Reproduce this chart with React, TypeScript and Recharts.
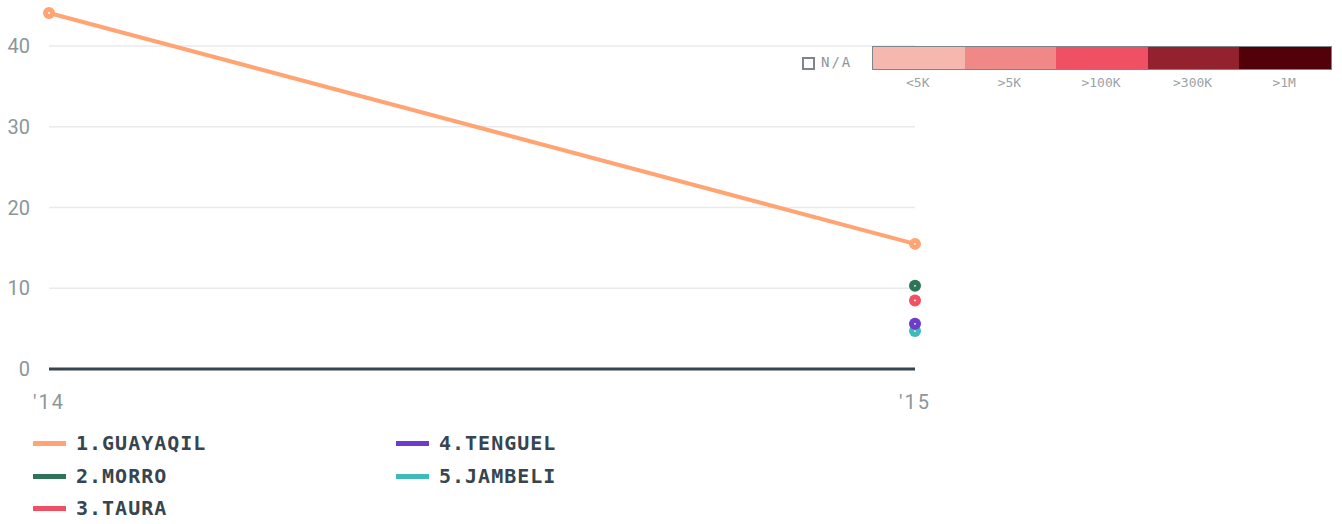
import React from 'react';
import { LineChart, Line, XAxis, YAxis, CartesianGrid } from 'recharts';

// years on the x axis
const years = ["'14", "'15"];

// values per town (null = no data)
const guayaquil = [44.1, 15.5];
const morro = [null, 10.3];
const taura = [null, 8.5];
const tenguel = [null, 5.6];
const jambeli = [null, 4.7];

const yTicks = [0, 10, 20, 30, 40];
const gridValues = [10, 20, 30, 40];

const SERIES = [
  { key: 'guayaquil', name: '1.GUAYAQIL', color: '#ffa472', values: guayaquil },
  { key: 'morro', name: '2.MORRO', color: '#2e7459', values: morro },
  { key: 'taura', name: '3.TAURA', color: '#ef5064', values: taura },
  { key: 'tenguel', name: '4.TENGUEL', color: '#6d3cc8', values: tenguel },
  { key: 'jambeli', name: '5.JAMBELI', color: '#40b9b9', values: jambeli },
];

const scaleLabels = ['<5K', '>5K', '>100K', '>300K', '>1M'];
const scaleColors = ['#f5b7ae', '#f08888', '#ef5064', '#93212e', '#520009'];

const data = years.map((year, i) => {
  const row: any = { year };
  SERIES.forEach((s) => {
    row[s.key] = s.values[i];
  });
  return row;
});

const MONO = '"DejaVu Sans Mono", monospace';
const TICK_FONT = 'Roboto, sans-serif';

const makeDot = (color: string) => (props: any) => {
  const { cx, cy, value, index } = props;
  if (value == null || cx == null || cy == null) return <g key={index} />;
  return (
    <g key={index}>
      <circle cx={cx} cy={cy} r={6} fill={color} />
      <circle cx={cx} cy={cy} r={0.9} fill="#ffffff" />
    </g>
  );
};

function ColorScale() {
  return (
    <div style={{ position: 'absolute', left: 800, top: 46 }}>
      <div style={{ position: 'absolute', left: 2, top: 11, width: 9, height: 9, border: '2px solid #7d868c' }} />
      <div
        style={{
          position: 'absolute',
          left: 21,
          top: 8,
          fontFamily: MONO,
          fontSize: 14,
          letterSpacing: 2,
          color: '#8b969c',
          lineHeight: '16px',
        }}
      >
        N/A
      </div>
      <div
        style={{
          position: 'absolute',
          left: 72,
          top: 0,
          width: 458,
          height: 22,
          border: '1.5px solid #7d868c',
          display: 'flex',
        }}
      >
        {scaleColors.map((c) => (
          <div key={c} style={{ flex: 1, background: c }} />
        ))}
      </div>
      {scaleLabels.map((l, i) => (
        <div
          key={l}
          style={{
            position: 'absolute',
            left: 72 + i * 91.6,
            width: 91.6,
            top: 29,
            textAlign: 'center',
            fontFamily: MONO,
            fontSize: 13,
            color: '#9aa3a8',
            lineHeight: '16px',
          }}
        >
          {l}
        </div>
      ))}
    </div>
  );
}

function BottomLegend() {
  const pos = [
    { left: 33, top: 434 },
    { left: 33, top: 467 },
    { left: 33, top: 499 },
    { left: 396, top: 434 },
    { left: 396, top: 467 },
  ];
  return (
    <>
      {SERIES.map((s, i) => (
        <div
          key={s.key}
          style={{ position: 'absolute', left: pos[i].left, top: pos[i].top, display: 'flex', alignItems: 'center', height: 18 }}
        >
          <div style={{ width: 33, height: 5, background: s.color }} />
          <div
            style={{
              marginLeft: 10,
              fontFamily: MONO,
              fontWeight: 'bold',
              fontSize: 20,
              letterSpacing: 1,
              color: '#36454f',
              lineHeight: '18px',
            }}
          >
            {s.name}
          </div>
        </div>
      ))}
    </>
  );
}

export default function App() {
  return (
    <div style={{ position: 'absolute', left: 0, top: 0, width: 1342, height: 524, background: '#ffffff' }}>
      <LineChart width={1342} height={524} data={data} margin={{ top: 13, right: 427, left: 0, bottom: 115 }}>
        <CartesianGrid vertical={false} horizontalValues={gridValues} stroke="#e8eaec" strokeWidth={1.5} />
        <XAxis
          dataKey="year"
          axisLine={{ stroke: '#36454f', strokeWidth: 3 }}
          tickLine={false}
          tickSize={0}
          tickMargin={26}
          height={40}
          tick={{ fill: '#8b969c', fontSize: 20, fontFamily: TICK_FONT, letterSpacing: 2 }}
        />
        <YAxis
          width={49}
          ticks={yTicks}
          domain={[0, 'dataMax']}
          axisLine={false}
          tickLine={false}
          tickSize={0}
          tickMargin={19}
          tick={{ fill: '#8b969c', fontSize: 20, fontFamily: TICK_FONT }}
        />
        {[...SERIES].reverse().map((s) => (
          <Line
            key={s.key}
            dataKey={s.key}
            name={s.name}
            stroke={s.color}
            strokeWidth={4}
            dot={makeDot(s.color)}
            activeDot={false}
            connectNulls={false}
            isAnimationActive={false}
          />
        ))}
      </LineChart>
      <ColorScale />
      <BottomLegend />
    </div>
  );
}
